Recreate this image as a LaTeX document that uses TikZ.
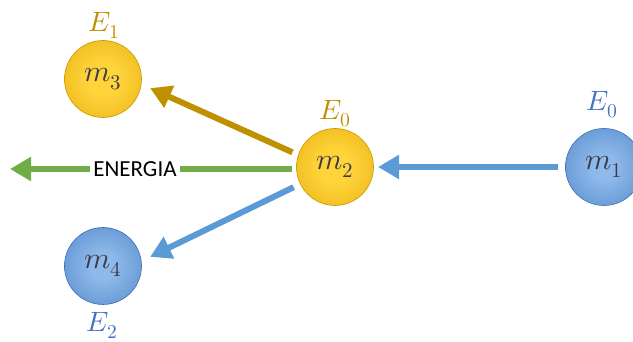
\documentclass[tikz,border=0pt]{standalone}
\usepackage{fontspec}
\usepackage{unicode-math}
\setmathfont{Latin Modern Math}
\newfontfamily\labelfont{Carlito}
\usetikzlibrary{arrows.meta,calc}

\definecolor{goldIn}{HTML}{FFD43B}
\definecolor{goldOut}{HTML}{E0A400}
\definecolor{goldEdge}{HTML}{C99500}
\definecolor{blueIn}{HTML}{8EB9EA}
\definecolor{blueOut}{HTML}{3C76BE}
\definecolor{blueEdge}{HTML}{3A6DAE}
\definecolor{goldArrow}{HTML}{BF9000}
\definecolor{blueArrow}{HTML}{5B9BD5}
\definecolor{greenArrow}{HTML}{70AD47}
\definecolor{goldText}{HTML}{BF9000}
\definecolor{blueText}{HTML}{4472C4}
\definecolor{massText}{HTML}{3B3B4A}

\pgfdeclareradialshading{goldball}{\pgfpoint{0bp}{0bp}}%
  {color(0bp)=(goldIn); color(10bp)=(goldIn); color(50bp)=(goldOut)}
\pgfdeclareradialshading{blueball}{\pgfpoint{0bp}{0bp}}%
  {color(0bp)=(blueIn); color(8bp)=(blueIn); color(50bp)=(blueOut)}

\tikzset{
  mass/.style={circle, minimum size=77pt, inner sep=0pt, text=massText,
    font=\fontsize{30}{34}\selectfont, line width=0.6pt},
  goldmass/.style={mass, shading=goldball, draw=goldEdge},
  bluemass/.style={mass, shading=blueball, draw=blueEdge},
  energy/.style={font=\fontsize{28}{32}\selectfont, anchor=base, inner sep=0pt},
  flow/.style={line width=6pt, -{Triangle[length=21pt,width=23pt]}},
}

\begin{document}
\begin{tikzpicture}[x=1pt, y=1pt]
  \useasboundingbox (0,0) rectangle (633,342);

  % masses
  \node[goldmass] (m3) at (103,263) {$m_3$};
  \node[goldmass] (m2) at (335,175) {$m_2$};
  \node[bluemass] (m1) at (604,175) {$m_1$};
  \node[bluemass] (m4) at (103,76)  {$m_4$};

  % energy labels
  \node[energy, text=goldText] (e1)  at (104,310) {$E_1$};
  \node[energy, text=goldText] (e0a) at (335,222) {$E_0$};
  \node[energy, text=blueText] (e0b) at (602,231) {$E_0$};
  \node[energy, text=blueText] (e2)  at (102,10)  {$E_2$};

  % flows
  \coordinate (gEnd) at (10,173);
  \draw[flow, blueArrow] ($(m1.center)+(180:46)$) -- ($(m2.center)+(0:43)$);
  \draw[flow, goldArrow] ($(m2.center)+(161:45)$) -- ($(m3.center)+(-11:48)$);
  \draw[flow, blueArrow] ($(m2.center)+(206:46)$) -- ($(m4.center)+(11:48)$);
  \draw[flow, greenArrow] ($(m2.center)+(-43,-2)$) -- (gEnd);

  \node[fill=white, inner sep=3pt, font=\labelfont\fontsize{23}{27}\selectfont]
    (en) at (135,173) {ENERGIA};
\end{tikzpicture}
\end{document}
